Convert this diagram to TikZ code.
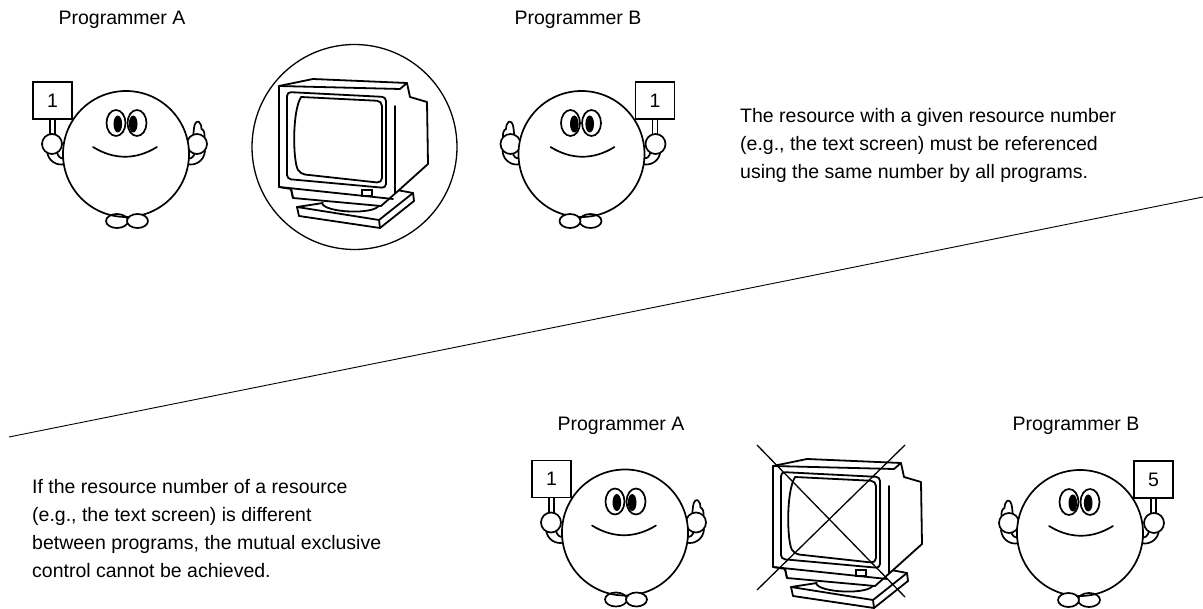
\documentclass[tikz,border=0pt]{standalone}
\usepackage{fontspec}
\setmainfont{Liberation Sans}
\begin{document}
\begin{tikzpicture}[x=1pt,y=-1pt,
  ink/.style={line width=1.7pt, line join=round, line cap=round},
  thin ink/.style={line width=1.1pt},
  mon/.style={line width=1.8pt, line join=round, line cap=round},
  label/.style={font=\fontsize{19.5}{24}\selectfont, anchor=base},
  para/.style={font=\fontsize{19.5}{28}\selectfont, anchor=north west, align=left, inner sep=0pt},
  signbox/.style={draw, line width=1.3pt, minimum width=39pt, minimum height=37pt,
    inner sep=0pt, font=\fontsize{19.5}{24}\selectfont},
  % a smiling programmer holding a numbered sign in the left hand
  smiley/.pic={
    % sign on a stick
    \draw[ink] (-76,-35) -- (-76,-20) (-71,-35) -- (-71,-20);
    \node[signbox, fill=white] (-sign) at (-73.5,-53.5) {#1};
    % cuff under the sign hand
    \draw[ink, fill=white] (-79,-3) .. controls (-78,8) and (-68,12) .. (-61.5,10)
      -- (-62.8,4) .. controls (-65,5) and (-68,3) .. (-69,-2);
    \draw[ink, fill=white] (-74,-10) circle[radius=10];
    % thumb-up hand
    \draw[ink, fill=white] (79,-3) .. controls (78,8) and (68,12) .. (61.5,10)
      -- (62.8,4) .. controls (65,5) and (68,3) .. (69,-2);
    \draw[ink, fill=white] (67,-16) -- (68,-26) .. controls (68.5,-31) and (71,-33.5) .. (73,-32)
      .. controls (75,-30) and (75.5,-28) .. (75.5,-25)
      .. controls (78,-24) and (79,-21) .. (78.5,-15) -- cycle;
    \draw[ink, fill=white] (71,-10) circle[radius=10];
    % body
    \draw[ink, fill=white] (0,0) circle[radius=63];
    % eyes
    \draw[ink] (-10,-31) ellipse[x radius=9.5, y radius=13];
    \draw[ink] (11,-31) ellipse[x radius=9.5, y radius=13];
    \fill (-8.2,-30) ellipse[x radius=4.3, y radius=8.5];
    \fill (7.2,-30) ellipse[x radius=4.3, y radius=8.5];
    % smile
    \draw[ink] (-33,-7) .. controls (-12,6) and (10,6) .. (31,-7);
    % feet
    \draw[ink] (-9,67) ellipse[x radius=11, y radius=7];
    \draw[ink, fill=white] (11.5,67) ellipse[x radius=10.5, y radius=7];
  },
  % a CRT monitor on a swivel base
  monitor/.pic={
    % base plate and swivel
    \draw[mon, fill=white] (323,203) -- (297,207) -- (299,216) -- (380,228) -- (414,201)
      -- (413,193) -- (397,190);
    \draw[mon] (297,207) -- (379,220) -- (413,193);
    \draw[mon] (379,220) -- (380,228);
    \draw[mon, fill=white] (322,203) .. controls (324,213) and (376,215) .. (379,205);
    % case
    \draw[mon, fill=white] (279,86) -- (313,79) -- (407,83) -- (410,97) -- (427,102)
      -- (428,164) -- (398,191) -- (381,206) -- (293,198) -- (291,189) -- (279,187) -- cycle;
    \draw[mon] (279,86) -- (400,89) -- (407,83);
    \draw[mon] (395,106) -- (395,193);
    \draw[mon] (279,187) -- (393,199);
    \draw[mon] (291,189) -- (293,198);
    % bezel and screen
    \draw[mon, rounded corners=4pt] (287,92) -- (386,97) -- (386,188) -- (287,179) -- cycle;
    \draw[mon, rounded corners=5pt] (301,97) -- (382,101) -- (382,183) -- (300,174)
      .. controls (293,160) and (292,112) .. (301,97);
    % power button
    \draw[thin ink] (362,190) rectangle (372,196);
  }
]
\useasboundingbox (0,0) rectangle (1203,609);

% upper half: same resource number
\node[label] (la1) at (122,25) {Programmer A};
\node[label] (lb1) at (578,25) {Programmer B};
\pic (pa1) at (126,154) {smiley=1};
\pic[xscale=-1] (pb1) at (581.5,154) {smiley=1};
\node[draw, circle, line width=1.3pt, minimum size=205pt] (ring) at (354.5,147) {};
\pic (mon1) at (0,0) {monitor};
\node[para] (txt1) at (740,108) {The resource with a given resource number\\
(e.g., the text screen) must be referenced\\
using the same number by all programs.};

% dividing line
\coordinate (divL) at (9,437);
\coordinate (divR) at (1203,197);
\draw[line width=0.9pt] (divL) -- (divR);

% lower half: different resource numbers
\node[label] (la2) at (621,431) {Programmer A};
\node[label] (lb2) at (1076,431) {Programmer B};
\pic (pa2) at (625,532.5) {smiley=1};
\pic[xscale=-1] (pb2) at (1080,533) {smiley=5};
\pic (mon2) at (494,380) {monitor};
\coordinate (xa) at (757,445);
\coordinate (xb) at (905,597);
\coordinate (xc) at (905,445);
\coordinate (xd) at (757,590);
\draw[line width=1.3pt] (xa) -- (xb);
\draw[line width=1.3pt] (xc) -- (xd);
\node[para] (txt2) at (32,479) {If the resource number of a resource\\
(e.g., the text screen) is different\\
between programs, the mutual exclusive\\
control cannot be achieved.};
\end{tikzpicture}
\end{document}
